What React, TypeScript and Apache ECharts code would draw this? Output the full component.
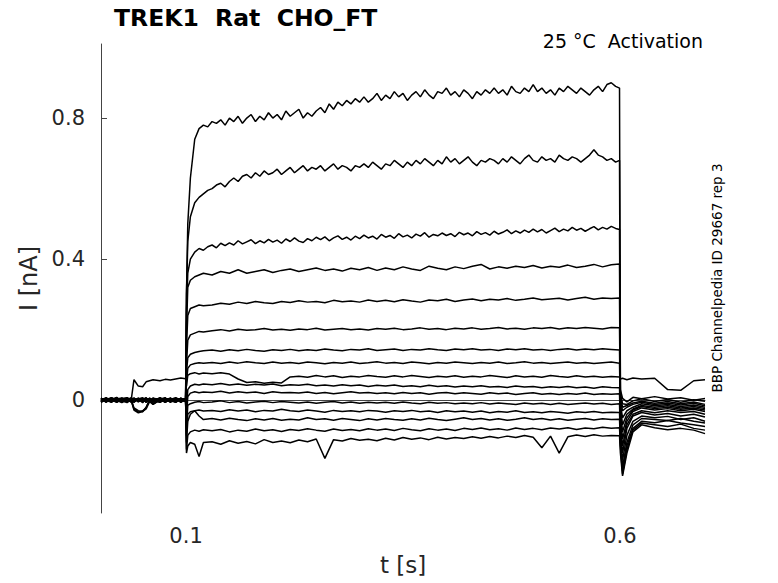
import React, { useEffect, useRef } from "react";
import * as echarts from "echarts";

// time samples (s)
const T_PRE = [
  0.002, 0.008, 0.014, 0.02, 0.026, 0.032, 0.037, 0.04, 0.045, 0.05,
  0.054, 0.058, 0.062, 0.07, 0.076, 0.082, 0.088, 0.094, 0.0995,
];
const T_STEP = [
  0.1005, 0.102, 0.105, 0.11, 0.115, 0.12,
  0.13, 0.14, 0.15, 0.16, 0.17, 0.18, 0.19, 0.2, 0.21, 0.22,
  0.23, 0.24, 0.25, 0.26, 0.27, 0.28, 0.29, 0.3, 0.31, 0.32,
  0.33, 0.34, 0.35, 0.36, 0.37, 0.38, 0.39, 0.4, 0.41, 0.42,
  0.43, 0.44, 0.45, 0.46, 0.47, 0.48, 0.49, 0.5, 0.51, 0.52,
  0.53, 0.54, 0.55, 0.56, 0.57, 0.58, 0.59, 0.5995,
];
const T_STEP_FINE = [
  0.1005, 0.102,
  0.105, 0.11, 0.115, 0.12, 0.125, 0.13, 0.135, 0.14, 0.145, 0.15,
  0.155, 0.16, 0.165, 0.17, 0.175, 0.18, 0.185, 0.19, 0.195, 0.2,
  0.205, 0.21, 0.215, 0.22, 0.225, 0.23, 0.235, 0.24, 0.245, 0.25,
  0.255, 0.26, 0.265, 0.27, 0.275, 0.28, 0.285, 0.29, 0.295, 0.3,
  0.305, 0.31, 0.315, 0.32, 0.325, 0.33, 0.335, 0.34, 0.345, 0.35,
  0.355, 0.36, 0.365, 0.37, 0.375, 0.38, 0.385, 0.39, 0.395, 0.4,
  0.405, 0.41, 0.415, 0.42, 0.425, 0.43, 0.435, 0.44, 0.445, 0.45,
  0.455, 0.46, 0.465, 0.47, 0.475, 0.48, 0.485, 0.49, 0.495, 0.5,
  0.505, 0.51, 0.515, 0.52, 0.525, 0.53, 0.535, 0.54, 0.545, 0.55,
  0.555, 0.56, 0.565, 0.57, 0.575, 0.58, 0.585, 0.59, 0.595,
  0.5995,
];
const T_POST = [0.6005, 0.603, 0.608, 0.615, 0.625, 0.64, 0.655, 0.67, 0.685, 0.698];

const X_TICKS = [0.1, 0.6];
const Y_TICKS = [0, 0.4, 0.8];

// currents (nA)
const TR01_PRE = [0.004, -0.006, 0.007, -0.003, 0.005, -0.007, 0.002, 0.006, -0.004, 0.003, -0.006, 0.005, -0.002, 0.007, -0.005, 0.004, -0.006, 0.003, 0.001];
const TR01_STEP = [
  0.3, 0.5,
  0.63, 0.74, 0.77, 0.78, 0.775, 0.79, 0.785, 0.795, 0.78, 0.8,
  0.79, 0.805, 0.785, 0.8, 0.81, 0.79, 0.805, 0.795, 0.815, 0.8,
  0.81, 0.795, 0.82, 0.805, 0.815, 0.825, 0.8, 0.815, 0.805, 0.82,
  0.83, 0.815, 0.84, 0.825, 0.845, 0.835, 0.85, 0.84, 0.855, 0.845,
  0.86, 0.845, 0.855, 0.87, 0.85, 0.865, 0.855, 0.875, 0.86, 0.87,
  0.85, 0.865, 0.875, 0.86, 0.88, 0.865, 0.855, 0.875, 0.87, 0.885,
  0.865, 0.875, 0.86, 0.88, 0.87, 0.855, 0.875, 0.865, 0.88, 0.87,
  0.885, 0.87, 0.88, 0.865, 0.89, 0.875, 0.87, 0.885, 0.875, 0.895,
  0.875, 0.885, 0.87, 0.88, 0.865, 0.885, 0.875, 0.89, 0.88, 0.87,
  0.885, 0.875, 0.865, 0.88, 0.89, 0.875, 0.895, 0.9, 0.89,
  0.885,
];
const TR01_POST = [0.03, 0.005, -0.005, 0.008, 0.004, 0.01, 0.003, 0.007, 0.0, 0.005];

const TR02_PRE = [-0.005, 0.006, -0.002, 0.008, -0.004, 0.003, -0.006, 0.002, 0.005, -0.003, 0.006, -0.005, 0.004, -0.002, 0.006, -0.004, 0.005, -0.003, 0.002];
const TR02_STEP = [
  0.3, 0.45,
  0.52, 0.56, 0.575, 0.585, 0.595, 0.6, 0.61, 0.615, 0.605, 0.62,
  0.63, 0.62, 0.635, 0.64, 0.63, 0.645, 0.635, 0.65, 0.64, 0.645,
  0.655, 0.64, 0.65, 0.66, 0.645, 0.655, 0.665, 0.65, 0.66, 0.655,
  0.665, 0.65, 0.66, 0.67, 0.655, 0.665, 0.66, 0.65, 0.665, 0.66,
  0.67, 0.66, 0.675, 0.665, 0.655, 0.67, 0.665, 0.68, 0.67, 0.66,
  0.675, 0.665, 0.68, 0.67, 0.685, 0.675, 0.665, 0.68, 0.67, 0.69,
  0.675, 0.685, 0.67, 0.68, 0.69, 0.675, 0.665, 0.68, 0.675, 0.685,
  0.68, 0.67, 0.685, 0.675, 0.69, 0.68, 0.67, 0.685, 0.695, 0.68,
  0.675, 0.69, 0.68, 0.685, 0.675, 0.695, 0.685, 0.68, 0.69, 0.685,
  0.675, 0.685, 0.695, 0.71, 0.695, 0.69, 0.68, 0.685, 0.675,
  0.68,
];
const TR02_POST = [0.02, -0.01, -0.012, -0.002, 0.004, -0.004, 0.002, -0.006, 0.001, -0.003];

const TR03_PRE = [0.003, -0.004, 0.006, -0.005, 0.002, 0.005, -0.003, -0.025, -0.034, -0.03, -0.022, 0.002, -0.012, 0.004, -0.005, 0.006, -0.002, 0.005, 0.0];
const TR03_STEP = [
  0.25, 0.36,
  0.4, 0.42, 0.43, 0.425, 0.435, 0.44, 0.432, 0.445, 0.438, 0.446,
  0.44, 0.452, 0.443, 0.449, 0.455, 0.444, 0.452, 0.446, 0.456, 0.448,
  0.454, 0.445, 0.457, 0.45, 0.46, 0.451, 0.447, 0.458, 0.452, 0.462,
  0.455, 0.463, 0.452, 0.46, 0.466, 0.456, 0.462, 0.454, 0.465, 0.458,
  0.468, 0.46, 0.465, 0.457, 0.47, 0.462, 0.467, 0.459, 0.472, 0.463,
  0.468, 0.46, 0.471, 0.465, 0.475, 0.462, 0.47, 0.466, 0.474, 0.467,
  0.472, 0.464, 0.476, 0.469, 0.474, 0.466, 0.478, 0.47, 0.475, 0.468,
  0.479, 0.471, 0.476, 0.483, 0.472, 0.48, 0.474, 0.482, 0.476, 0.485,
  0.477, 0.484, 0.474, 0.481, 0.488, 0.478, 0.485, 0.48, 0.49, 0.482,
  0.487, 0.479, 0.486, 0.492, 0.483, 0.49, 0.485, 0.493, 0.487,
  0.484,
];
const TR03_POST = [0.01, -0.02, -0.015, -0.008, -0.003, -0.009, -0.004, -0.01, -0.005, -0.012];

const TR04_PRE = [-0.006, 0.004, -0.002, 0.007, -0.005, 0.002, 0.006, -0.004, 0.003, -0.007, 0.004, 0.001, -0.005, 0.003, 0.006, -0.003, 0.004, -0.006, 0.002];
const TR04_STEP = [
  0.2, 0.32, 0.34, 0.35, 0.355, 0.36,
  0.355, 0.365, 0.36, 0.37, 0.36, 0.365, 0.37, 0.362, 0.368, 0.372,
  0.365, 0.37, 0.375, 0.368, 0.372, 0.366, 0.374, 0.37, 0.376, 0.368,
  0.375, 0.37, 0.378, 0.372, 0.368, 0.38, 0.374, 0.37, 0.378, 0.373,
  0.38, 0.385, 0.372, 0.378, 0.374, 0.38, 0.376, 0.382, 0.375, 0.38,
  0.377, 0.383, 0.376, 0.38, 0.385, 0.378, 0.384, 0.386,
];
const TR04_POST = [0.0, -0.03, -0.02, -0.012, -0.006, -0.012, -0.008, -0.014, -0.009, -0.016];

const TR05_PRE = [0.005, -0.002, 0.006, -0.006, 0.003, -0.004, 0.007, -0.002, 0.004, 0.006, -0.005, 0.003, -0.003, 0.005, -0.006, 0.002, 0.007, -0.004, 0.001];
const TR05_STEP = [
  0.15, 0.24, 0.26, 0.265, 0.27, 0.268,
  0.27, 0.275, 0.272, 0.278, 0.274, 0.28, 0.276, 0.274, 0.28, 0.277,
  0.282, 0.278, 0.28, 0.276, 0.283, 0.279, 0.281, 0.278, 0.284, 0.28,
  0.283, 0.279, 0.285, 0.281, 0.278, 0.284, 0.282, 0.286, 0.28, 0.284,
  0.287, 0.282, 0.286, 0.284, 0.288, 0.283, 0.286, 0.29, 0.285, 0.287,
  0.289, 0.284, 0.288, 0.292, 0.286, 0.29, 0.288, 0.29,
];
const TR05_POST = [-0.01, -0.05, -0.03, -0.02, -0.01, -0.016, -0.012, -0.018, -0.014, -0.02];

const TR06_PRE = [-0.003, 0.007, -0.005, 0.003, 0.006, -0.004, 0.002, -0.006, 0.005, -0.002, 0.004, -0.006, 0.006, -0.004, 0.002, 0.005, -0.005, 0.006, -0.002];
const TR06_STEP = [
  0.1, 0.17, 0.185, 0.19, 0.195, 0.193,
  0.197, 0.2, 0.196, 0.201, 0.198, 0.2, 0.203, 0.199, 0.201, 0.198,
  0.202, 0.2, 0.204, 0.199, 0.201, 0.203, 0.2, 0.202, 0.199, 0.203,
  0.201, 0.204, 0.2, 0.202, 0.205, 0.201, 0.203, 0.2, 0.204, 0.202,
  0.205, 0.201, 0.203, 0.206, 0.202, 0.204, 0.201, 0.205, 0.203, 0.206,
  0.202, 0.205, 0.203, 0.206, 0.204, 0.202, 0.206, 0.205,
];
const TR06_POST = [-0.02, -0.07, -0.04, -0.025, -0.015, -0.02, -0.016, -0.022, -0.018, -0.024];

const TR07_PRE = [0.006, -0.005, 0.002, 0.005, -0.007, 0.004, -0.002, 0.006, -0.005, 0.002, 0.007, -0.003, 0.004, -0.006, 0.003, -0.002, 0.005, -0.005, 0.003];
const TR07_STEP = [
  0.08, 0.12, 0.13, 0.135, 0.138, 0.14,
  0.142, 0.139, 0.143, 0.14, 0.144, 0.141, 0.139, 0.143, 0.141, 0.144,
  0.14, 0.143, 0.141, 0.145, 0.142, 0.14, 0.144, 0.142, 0.146, 0.141,
  0.143, 0.145, 0.141, 0.144, 0.142, 0.146, 0.143, 0.141, 0.145, 0.143,
  0.146, 0.142, 0.144, 0.141, 0.145, 0.143, 0.146, 0.142, 0.144, 0.141,
  0.144, 0.146, 0.142, 0.145, 0.143, 0.146, 0.144, 0.142,
];
const TR07_POST = [-0.03, -0.09, -0.05, -0.028, -0.018, -0.024, -0.02, -0.026, -0.022, -0.028];

const TR08_PRE = [-0.004, 0.003, -0.006, 0.004, 0.002, -0.005, 0.006, -0.003, 0.002, 0.005, -0.004, 0.006, -0.006, 0.002, 0.005, -0.006, 0.003, 0.004, -0.002];
const TR08_STEP = [
  0.05, 0.09, 0.1, 0.104, 0.106, 0.105,
  0.107, 0.104, 0.108, 0.105, 0.109, 0.106, 0.104, 0.108, 0.105, 0.107,
  0.104, 0.108, 0.106, 0.103, 0.107, 0.105, 0.108, 0.104, 0.106, 0.109,
  0.105, 0.107, 0.104, 0.108, 0.106, 0.103, 0.107, 0.105, 0.108, 0.106,
  0.104, 0.107, 0.105, 0.108, 0.104, 0.106, 0.109, 0.105, 0.107, 0.104,
  0.106, 0.108, 0.105, 0.107, 0.104, 0.106, 0.108, 0.105,
];
const TR08_POST = [-0.04, -0.11, -0.06, -0.032, -0.022, -0.028, -0.024, -0.03, -0.026, -0.032];

const TR09_PRE = [0.004, -0.003, 0.005, -0.002, 0.003, -0.004, 0.004, 0.058, 0.04, 0.038, 0.052, 0.055, 0.058, 0.055, 0.059, 0.057, 0.06, 0.063, 0.061];
const TR09_STEP = [
  0.04, 0.07, 0.075, 0.078, 0.074, 0.077,
  0.075, 0.078, 0.074, 0.06, 0.05, 0.052, 0.048, 0.051, 0.049, 0.066,
  0.068, 0.065, 0.07, 0.066, 0.069, 0.064, 0.068, 0.066, 0.07, 0.067,
  0.065, 0.069, 0.066, 0.07, 0.067, 0.064, 0.068, 0.066, 0.069, 0.065,
  0.068, 0.066, 0.07, 0.067, 0.064, 0.069, 0.066, 0.068, 0.065, 0.07,
  0.067, 0.065, 0.069, 0.066, 0.068, 0.065, 0.067, 0.066,
];
const TR09_POST = [0.06, 0.062, 0.058, 0.063, 0.06, 0.062, 0.03, 0.028, 0.055, 0.058];

const TR10_PRE = [0.002, 0.006, -0.004, 0.005, -0.003, -0.006, 0.004, -0.002, 0.006, -0.004, 0.003, -0.005, 0.005, 0.002, -0.006, 0.004, -0.003, 0.006, -0.004];
const TR10_STEP = [
  -0.03, 0.03, 0.04, 0.045, 0.043, 0.046,
  0.044, 0.047, 0.043, 0.046, 0.042, 0.045, 0.043, 0.046, 0.041, 0.044,
  0.042, 0.045, 0.041, 0.043, 0.04, 0.044, 0.041, 0.043, 0.039, 0.042,
  0.04, 0.043, 0.039, 0.041, 0.038, 0.042, 0.039, 0.041, 0.037, 0.04,
  0.038, 0.041, 0.037, 0.039, 0.036, 0.04, 0.037, 0.039, 0.035, 0.038,
  0.036, 0.039, 0.035, 0.037, 0.034, 0.038, 0.036, 0.035,
];
const TR10_POST = [-0.06, -0.13, -0.07, -0.04, -0.03, -0.036, -0.03, -0.035, -0.032, -0.04];

const TR11_PRE = [-0.006, 0.002, 0.007, -0.003, 0.004, 0.006, -0.005, 0.003, -0.002, 0.006, -0.006, 0.004, -0.003, 0.006, 0.001, -0.005, 0.004, -0.002, 0.005];
const TR11_STEP = [
  -0.05, 0.01, 0.02, 0.024, 0.021, 0.023,
  0.022, 0.025, 0.02, 0.024, 0.021, 0.023, 0.019, 0.024, 0.021, 0.022,
  0.02, 0.023, 0.019, 0.022, 0.018, 0.021, 0.024, 0.02, 0.022, 0.019,
  0.021, 0.018, 0.022, 0.019, 0.021, 0.017, 0.02, 0.022, 0.018, 0.021,
  0.019, 0.017, 0.021, 0.018, 0.02, 0.016, 0.019, 0.021, 0.017, 0.019,
  0.016, 0.019, 0.017, 0.02, 0.016, 0.018, 0.017, 0.018,
];
const TR11_POST = [-0.08, -0.15, -0.08, -0.045, -0.035, -0.042, -0.038, -0.045, -0.04, -0.048];

const TR12_PRE = [0.005, -0.003, 0.004, 0.006, -0.005, 0.003, 0.001, -0.022, -0.03, -0.033, -0.02, 0.001, -0.01, -0.002, 0.005, -0.004, 0.006, 0.002, -0.003];
const TR12_STEP = [
  -0.08, -0.015, -0.01, -0.006, -0.004, -0.007,
  -0.005, -0.002, -0.007, -0.004, -0.008, -0.005, -0.003, -0.007, -0.004, -0.006,
  -0.008, -0.005, -0.009, -0.006, -0.004, -0.008, -0.005, -0.009, -0.006, -0.008,
  -0.006, -0.009, -0.005, -0.008, -0.01, -0.006, -0.009, -0.007, -0.01, -0.008,
  -0.01, -0.007, -0.011, -0.008, -0.01, -0.012, -0.008, -0.011, -0.009, -0.012,
  -0.009, -0.012, -0.01, -0.008, -0.011, -0.009, -0.012, -0.01,
];
const TR12_POST = [-0.1, -0.17, -0.1, -0.06, -0.045, -0.05, -0.046, -0.055, -0.05, -0.06];

const TR13_PRE = [-0.002, 0.005, 0.001, -0.006, 0.004, 0.006, -0.004, 0.005, 0.002, -0.005, 0.006, -0.002, 0.004, -0.006, 0.003, 0.005, -0.004, 0.002, -0.005];
const TR13_STEP = [
  -0.1, -0.04, -0.033, -0.03, -0.028, -0.031,
  -0.029, -0.032, -0.027, -0.031, -0.028, -0.033, -0.029, -0.031, -0.026, -0.03,
  -0.032, -0.028, -0.031, -0.034, -0.029, -0.032, -0.03, -0.033, -0.029, -0.031,
  -0.034, -0.03, -0.032, -0.029, -0.033, -0.031, -0.035, -0.03, -0.033, -0.031,
  -0.034, -0.031, -0.036, -0.032, -0.034, -0.03, -0.035, -0.033, -0.036, -0.032,
  -0.034, -0.037, -0.033, -0.035, -0.032, -0.036, -0.034, -0.035,
];
const TR13_POST = [-0.11, -0.19, -0.12, -0.07, -0.052, -0.055, -0.058, -0.052, -0.06, -0.065];

const TR14_PRE = [0.006, -0.002, -0.005, 0.004, -0.003, 0.007, 0.002, -0.006, 0.004, 0.003, -0.004, 0.005, 0.001, -0.005, 0.006, -0.002, -0.006, 0.004, 0.001];
const TR14_STEP = [
  -0.12, -0.06, -0.04, -0.03, -0.045, -0.055,
  -0.052, -0.056, -0.051, -0.055, -0.058, -0.053, -0.056, -0.052, -0.057, -0.054,
  -0.056, -0.05, -0.055, -0.053, -0.057, -0.052, -0.055, -0.058, -0.053, -0.056,
  -0.052, -0.055, -0.057, -0.053, -0.056, -0.051, -0.055, -0.058, -0.054, -0.05,
  -0.055, -0.052, -0.056, -0.053, -0.057, -0.054, -0.05, -0.055, -0.052, -0.056,
  -0.053, -0.057, -0.054, -0.052, -0.056, -0.053, -0.055, -0.054,
];
const TR14_POST = [-0.12, -0.2, -0.13, -0.08, -0.06, -0.064, -0.058, -0.065, -0.07, -0.075];

const TR15_PRE = [-0.005, 0.004, 0.003, -0.004, 0.006, -0.001, 0.005, -0.005, 0.002, 0.006, -0.003, -0.002, 0.005, 0.003, -0.004, 0.006, -0.002, 0.003, 0.004];
const TR15_STEP = [
  -0.14, -0.1, -0.09, -0.085, -0.088, -0.084,
  -0.087, -0.083, -0.09, -0.085, -0.088, -0.082, -0.087, -0.084, -0.089, -0.083,
  -0.086, -0.081, -0.085, -0.088, -0.082, -0.086, -0.083, -0.087, -0.081, -0.085,
  -0.082, -0.086, -0.08, -0.084, -0.087, -0.081, -0.085, -0.082, -0.086, -0.08,
  -0.083, -0.079, -0.084, -0.081, -0.085, -0.079, -0.083, -0.08, -0.084, -0.079,
  -0.082, -0.078, -0.083, -0.079, -0.081, -0.077, -0.08, -0.078,
];
const TR15_POST = [-0.13, -0.21, -0.14, -0.085, -0.065, -0.07, -0.075, -0.068, -0.08, -0.085];

const TR16_PRE = [0.002, -0.005, 0.004, -0.002, -0.006, 0.004, -0.002, -0.028, -0.036, -0.032, -0.025, -0.004, -0.012, 0.002, 0.006, -0.003, 0.004, -0.005, 0.003];
const TR16_STEP = [
  -0.15, -0.13, -0.12, -0.125, -0.16, -0.12,
  -0.118, -0.125, -0.115, -0.122, -0.117, -0.124, -0.112, -0.12, -0.116, -0.121,
  -0.113, -0.118, -0.11, -0.165, -0.112, -0.116, -0.109, -0.114, -0.111, -0.115,
  -0.108, -0.113, -0.106, -0.111, -0.107, -0.112, -0.105, -0.11, -0.106, -0.109,
  -0.104, -0.108, -0.103, -0.107, -0.102, -0.106, -0.1, -0.105, -0.135, -0.102,
  -0.15, -0.104, -0.099, -0.103, -0.098, -0.102, -0.1, -0.101,
];
const TR16_POST = [-0.15, -0.215, -0.15, -0.09, -0.07, -0.078, -0.084, -0.08, -0.085, -0.095];

// [pre values, step times, step values, post values]
const TRACES: [number[], number[], number[], number[]][] = [
  [TR01_PRE, T_STEP_FINE, TR01_STEP, TR01_POST],
  [TR02_PRE, T_STEP_FINE, TR02_STEP, TR02_POST],
  [TR03_PRE, T_STEP_FINE, TR03_STEP, TR03_POST],
  [TR04_PRE, T_STEP, TR04_STEP, TR04_POST],
  [TR05_PRE, T_STEP, TR05_STEP, TR05_POST],
  [TR06_PRE, T_STEP, TR06_STEP, TR06_POST],
  [TR07_PRE, T_STEP, TR07_STEP, TR07_POST],
  [TR08_PRE, T_STEP, TR08_STEP, TR08_POST],
  [TR09_PRE, T_STEP, TR09_STEP, TR09_POST],
  [TR10_PRE, T_STEP, TR10_STEP, TR10_POST],
  [TR11_PRE, T_STEP, TR11_STEP, TR11_POST],
  [TR12_PRE, T_STEP, TR12_STEP, TR12_POST],
  [TR13_PRE, T_STEP, TR13_STEP, TR13_POST],
  [TR14_PRE, T_STEP, TR14_STEP, TR14_POST],
  [TR15_PRE, T_STEP, TR15_STEP, TR15_POST],
  [TR16_PRE, T_STEP, TR16_STEP, TR16_POST],
];

const TITLE = "TREK1  Rat  CHO_FT";
const SUBTITLE = "25 °C  Activation";
const SIDE_NOTE = "BBP Channelpedia ID 29667 rep 3";
const FONT = "DejaVu Sans";

function zip(ts: number[], vs: number[]): number[][] {
  const n = Math.min(ts.length, vs.length);
  const out: number[][] = [];
  for (let i = 0; i < n; i++) out.push([ts[i], vs[i]]);
  return out;
}

export default function App() {
  const ref = useRef<HTMLDivElement>(null);
  useEffect(() => {
    if (!ref.current) return;
    const chart = echarts.init(ref.current, undefined, { renderer: "svg" });
    const series = TRACES.map((tr, i) => ({
      type: "line",
      name: "sweep " + (i + 1),
      data: [...zip(T_PRE, tr[0]), ...zip(tr[1], tr[2]), ...zip(T_POST, tr[3])],
      showSymbol: false,
      symbol: "none",
      lineStyle: { color: "#000", width: 1.5 },
      emphasis: { disabled: true },
      silent: true,
      z: 2,
    }));
    chart.setOption({
      animation: false,
      backgroundColor: "#fff",
      grid: { left: 101, top: 44, width: 604, height: 469, containLabel: false, outerBoundsMode: "none" },
      xAxis: {
        type: "value",
        min: 0.002,
        max: 0.698,
        name: "t [s]",
        nameLocation: "middle",
        nameGap: 40,
        nameTextStyle: { fontFamily: FONT, fontSize: 23, color: "#262626" },
        axisLine: { show: true, lineStyle: { color: "#444", width: 1 } },
        axisTick: { show: true, inside: true, length: 6, customValues: X_TICKS, lineStyle: { color: "#444" } },
        axisLabel: { customValues: X_TICKS, fontFamily: FONT, fontSize: 21, color: "#262626", margin: 12 },
        splitLine: { show: false },
      },
      yAxis: {
        type: "value",
        min: -0.32,
        max: 1.01,
        name: "I [nA]",
        nameLocation: "middle",
        nameGap: 57,
        nameTextStyle: { fontFamily: FONT, fontSize: 24, color: "#262626" },
        axisLine: { show: true, lineStyle: { color: "#444", width: 1 } },
        axisTick: { show: true, inside: true, length: 6, customValues: Y_TICKS, lineStyle: { color: "#444" } },
        axisLabel: {
          customValues: Y_TICKS,
          fontFamily: FONT,
          fontSize: 21,
          color: "#262626",
          margin: 16,
          formatter: (v: number) => (v === 0 ? "0" : String(v)),
        },
        splitLine: { show: false },
      },
      graphic: [
        {
          type: "text",
          x: 114,
          y: 18,
          style: { text: TITLE, fontFamily: FONT, fontSize: 23.5, fontWeight: "bold", fill: "#000", align: "left", verticalAlign: "middle" },
        },
        {
          type: "text",
          x: 703,
          y: 41,
          style: { text: SUBTITLE, fontFamily: FONT, fontSize: 19, fill: "#000", align: "right", verticalAlign: "middle" },
        },
        {
          type: "text",
          x: 717,
          y: 278,
          rotation: Math.PI / 2,
          style: { text: SIDE_NOTE, fontFamily: FONT, fontSize: 13.5, fill: "#000", align: "center", verticalAlign: "middle" },
        },
      ],
      series,
    });
    return () => chart.dispose();
  }, []);
  return <div ref={ref} style={{ position: "absolute", left: 0, top: 0, width: 778, height: 583 }} />;
}
